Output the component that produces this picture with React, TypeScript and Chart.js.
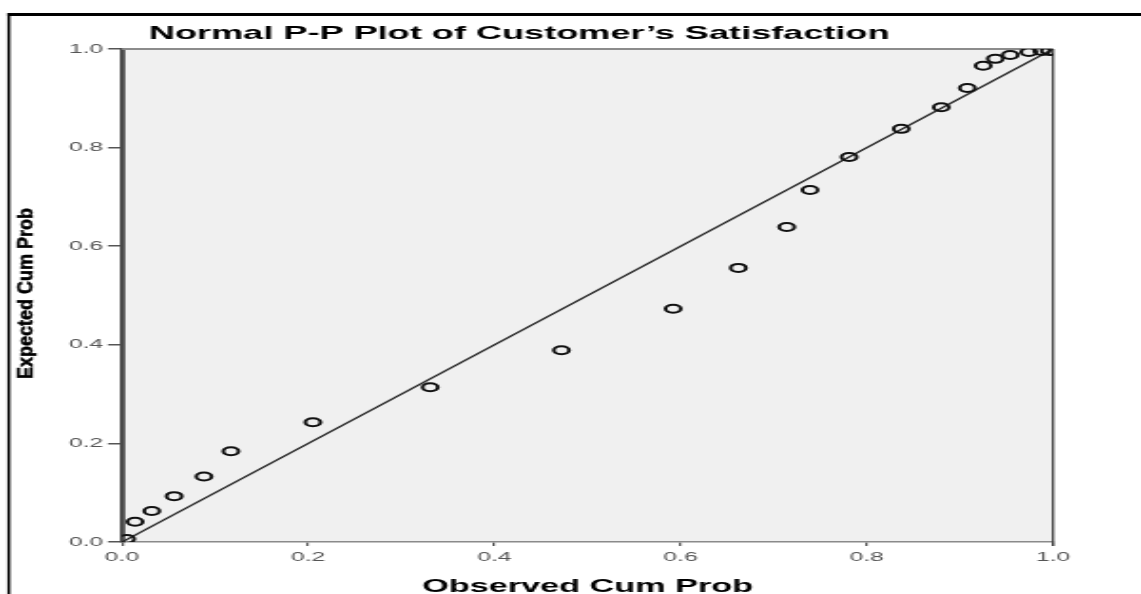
import React, { useEffect, useRef } from "react";
import { Chart, registerables } from "chart.js";

Chart.register(...registerables);

// ---- data ----
const observedCumProb = [
  0.005, 0.014, 0.032, 0.056, 0.088, 0.117, 0.205, 0.331, 0.472, 0.592, 0.662, 0.714,
  0.739, 0.781, 0.837, 0.88, 0.908, 0.925, 0.938, 0.954, 0.974, 0.988, 0.996,
];
const expectedCumProb = [
  0.006, 0.041, 0.063, 0.093, 0.133, 0.184, 0.243, 0.314, 0.389, 0.473, 0.556, 0.639,
  0.714, 0.781, 0.838, 0.882, 0.921, 0.966, 0.98, 0.988, 0.994, 0.996, 0.996,
];
const refLineX = [0, 1];
const refLineY = [0, 1];
const axisTicks = [0, 0.2, 0.4, 0.6, 0.8, 1.0];

const chartTitle = "Normal P-P Plot of Customer\u2019s Satisfaction";
const xAxisTitle = "Observed Cum Prob";
const yAxisTitle = "Expected Cum Prob";

// ---- layout (the picture is horizontally stretched) ----
const W = 600;
const H = 594;
const SX = 1141 / W;
const FONT = '"Liberation Sans", Arial, Helvetica, sans-serif';

export default function App() {
  const ref = useRef<HTMLCanvasElement | null>(null);

  useEffect(() => {
    const canvas = ref.current;
    if (!canvas) return;

    const decor = {
      id: "decor",
      beforeDraw(chart: any) {
        const { ctx, chartArea: a } = chart;
        ctx.save();
        ctx.fillStyle = "#ffffff";
        ctx.fillRect(0, 0, chart.width, chart.height);
        ctx.fillStyle = "#000000";
        ctx.fillRect(3.9, 13, chart.width, 3);
        ctx.fillRect(3.9, 13, 1.5, chart.height);
        ctx.fillStyle = "#f0f0f0";
        ctx.fillRect(a.left, a.top, a.right - a.left, a.bottom - a.top);
        ctx.restore();
      },
      beforeDatasetsDraw(chart: any) {
        const { ctx, chartArea: a } = chart;
        ctx.save();
        ctx.strokeStyle = "#8c8c8c";
        ctx.lineWidth = 2;
        ctx.beginPath();
        ctx.moveTo(a.left, a.top);
        ctx.lineTo(a.right, a.top);
        ctx.stroke();
        ctx.strokeStyle = "#444444";
        ctx.lineWidth = 1.3;
        ctx.beginPath();
        ctx.moveTo(a.right, a.top);
        ctx.lineTo(a.right, a.bottom + 4);
        ctx.stroke();
        ctx.restore();
      },
      afterDraw(chart: any) {
        const { ctx, chartArea: a } = chart;
        ctx.save();
        ctx.fillStyle = "#000000";
        ctx.textBaseline = "alphabetic";
        ctx.textAlign = "center";
        ctx.font = `bold 19px ${FONT}`;
        ctx.fillText(chartTitle, 273, 39);
        ctx.font = `bold 18px ${FONT}`;
        ctx.fillText(xAxisTitle, (a.left + a.right) / 2, 592);
        ctx.translate(32.5 / SX, 293.5);
        ctx.rotate(-Math.PI / 2);
        ctx.scale(1, 1.2 / SX);
        ctx.font = `bold 18px ${FONT}`;
        ctx.strokeStyle = "#000000";
        ctx.lineWidth = 0.6;
        ctx.strokeText(yAxisTitle, 0, 0);
        ctx.fillText(yAxisTitle, 0, 0);
        ctx.restore();
      },
    };

    const tickFont = { family: FONT, size: 13 };
    const setTicks = (s: any) => {
      s.ticks = axisTicks.map((v) => ({ value: v }));
    };

    const chart = new Chart(canvas, {
      type: "scatter",
      data: {
        datasets: [
          {
            type: "scatter",
            data: observedCumProb.map((x, i) => ({ x, y: expectedCumProb[i] })),
            pointRadius: 4,
            pointBorderWidth: 2,
            pointBorderColor: "#111111",
            pointBackgroundColor: "rgba(0,0,0,0)",
            order: 1,
          } as any,
          {
            type: "line",
            data: refLineX.map((x, i) => ({ x, y: refLineY[i] })),
            borderColor: "#2a2a2a",
            borderWidth: 1.4,
            pointRadius: 0,
            fill: false,
            order: 2,
          } as any,
        ],
      },
      options: {
        responsive: false,
        animation: false,
        events: [],
        layout: { padding: { top: 49, left: 0, right: W - 1053 / SX, bottom: 0 } },
        plugins: {
          legend: { display: false },
          tooltip: { enabled: false },
          title: { display: false },
        },
        scales: {
          x: {
            type: "linear",
            min: 0,
            max: 1,
            afterBuildTicks: setTicks,
            afterFit: (s: any) => {
              s.height = H - 542;
            },
            ticks: {
              font: tickFont,
              color: "#555555",
              padding: 4,
              maxRotation: 0,
              autoSkip: false,
              callback: (v: any) => Number(v).toFixed(1),
            },
            grid: {
              drawOnChartArea: false,
              drawTicks: true,
              tickLength: 4,
              color: "#555555",
              lineWidth: 1.2,
            },
            border: { display: true, color: "#8a8a8a", width: 1.5 },
          },
          y: {
            type: "linear",
            min: 0,
            max: 1,
            afterBuildTicks: setTicks,
            afterFit: (s: any) => {
              s.width = 122 / SX;
            },
            ticks: {
              font: tickFont,
              color: "#555555",
              padding: 2.5,
              autoSkip: false,
              callback: (v: any) => Number(v).toFixed(1),
            },
            grid: {
              drawOnChartArea: false,
              drawTicks: true,
              tickLength: 7.4,
              color: "#555555",
              lineWidth: 1.5,
            },
            border: { display: true, color: "#4a4a4a", width: 2.8 },
          },
        },
      } as any,
      plugins: [decor],
    });

    return () => chart.destroy();
  }, []);

  return (
    <div style={{ position: "fixed", left: 0, top: 0, width: 1141, height: H, background: "#fff" }}>
      <canvas
        ref={ref}
        width={W}
        height={H}
        style={{ width: "1141px", height: `${H}px`, display: "block" }}
      />
    </div>
  );
}
